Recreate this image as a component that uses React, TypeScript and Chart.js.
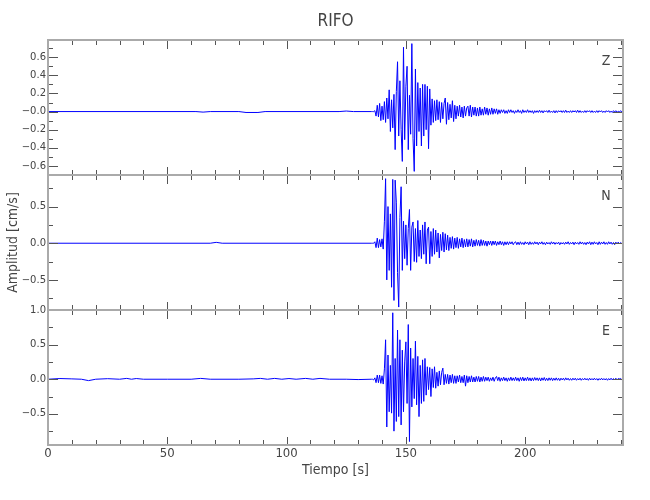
import { useEffect, useRef } from "react";
import { Chart, registerables } from "chart.js";

Chart.register(...registerables);

// ---------------- data ----------------
const TITLE = "RIFO";
const X_TITLE = "Tiempo [s]";
const Y_TITLE = "Amplitud [cm/s]";
const channelNames = ["Z", "N", "E"];

const xMax = 241;
const xTickValues = [0, 50, 100, 150, 200];
const xTickLabels = ["0", "50", "100", "150", "200"];
const xMinorTickValues = [10, 20, 30, 40, 60, 70, 80, 90, 110, 120, 130, 140, 160, 170, 180, 190, 210, 220, 230, 240];

const zRange = [-0.70, 0.79];
const nRange = [-0.91, 0.93];
const eRange = [-0.95, 1.0];

const zTickValues = [-0.6, -0.4, -0.2, 0, 0.2, 0.4, 0.6];
const zTickLabels = ["−0.6", "−0.4", "−0.2", "−0.0", "0.2", "0.4", "0.6"];
const zMinorTicks = [-0.5, -0.3, -0.1, 0.1, 0.3, 0.5, 0.7];

const nTickValues = [-0.5, 0, 0.5];
const nTickLabels = ["−0.5", "0.0", "0.5"];
const nMinorTicks = [-0.75, -0.25, 0.25, 0.75];

const eTickValues = [-0.5, 0, 0.5, 1.0];
const eTickLabels = ["−0.5", "0.0", "0.5", "1.0"];
const eMinorTicks = [-0.75, -0.25, 0.25, 0.75];

// quiet part before the arrival: (time, amplitude) pairs
const zQuietT = [0, 62, 65, 68, 80, 83, 88, 91, 122, 125, 128, 135.5];
const zQuietV = [0, 0, -0.006, 0, 0, -0.01, -0.01, 0, 0, 0.006, 0, 0];
const nQuietT = [0, 68, 70.5, 73, 135.5];
const nQuietV = [0, 0, 0.012, 0, 0];
const eQuietT = [0, 5, 10, 14, 17, 20, 25, 30, 33, 35, 37, 40, 50, 60, 64, 68, 80, 86, 89, 92, 95, 98, 101, 104, 108, 111, 114, 118, 125, 130, 135.5];
const eQuietV = [0, 0.01, 0.005, 0, -0.02, 0, 0.008, 0, 0.012, 0, 0.01, 0, 0, 0, 0.012, 0, 0, 0.005, 0.012, 0, 0.012, 0, 0.01, 0, 0.012, 0, 0.012, 0, 0, -0.005, 0];

// active part: samples every 0.5 s starting at 136 s
const activeStart = 136;
const sampleStep = 0.5;

const zActive = [
  0, 0, 0.01, -0.05, 0.07, -0.06, 0.09, -0.10, 0.06, -0.09, 0.11, -0.12, 0.15, -0.08, 0.24, -0.22, 0.13, -0.18, 0.19, -0.42,
  0.22, 0.55, -0.27, 0.34, -0.20, -0.55, 0.71, -0.31, 0.28, 0.50, -0.42, 0.18, -0.25, 0.75, -0.30, -0.66, 0.47, -0.38, 0.32, -0.22,
  0.26, -0.38, 0.30, -0.27, 0.30, -0.20, 0.28, -0.41, 0.25, -0.15, 0.14, -0.12, 0.12, -0.10, 0.13, -0.09, 0.11, -0.12, 0.10, -0.08,
  0.09, 0.15, -0.14, 0.10, -0.09, 0.08, -0.07, 0.12, -0.11, 0.07, -0.08, 0.06, -0.05, 0.07, -0.06, 0.05, -0.07, 0.06, -0.05, 0.04,
  0.06, -0.05, 0.07, -0.06, 0.05, -0.04, 0.05, -0.05, 0.04, -0.05, 0.05, -0.04, 0.03, -0.04, 0.05, -0.03, 0.04, -0.04, 0.03, -0.03,
  0.04, -0.03, 0.03, -0.02, 0.03, -0.03, 0.02, -0.02, 0.02, -0.01, 0.02, -0.02, 0.01, -0.02, 0.02, -0.01, 0.02, -0.01, 0.01, -0.02,
  0.01, -0.01, 0.02, -0.01, 0.01, -0.02, 0.02, -0.01, 0.01, -0.01, 0.02, -0.01, 0.01, -0.01, 0.01, -0.02, 0.01, -0.01, 0.01, -0.01,
  0.015, -0.01, 0.01, -0.015, 0.01, -0.005, 0.01, -0.01, 0.015, -0.01, 0.005, -0.01, 0.01, -0.015, 0.01, -0.01, 0.01, -0.005, 0.01, -0.01,
  0.01, -0.01, 0.015, -0.01, 0.005, -0.01, 0.01, -0.01, 0.01, -0.005, 0.01, -0.01, 0.015, -0.01, 0.01, -0.01, 0.005, -0.01, 0.01, -0.01,
  0.01, -0.005, 0.01, -0.01, 0.01, -0.01, 0.005, -0.01, 0.01, -0.01, 0.01, -0.005, 0.01, -0.01, 0.005, -0.01, 0.01, -0.005, 0.01, -0.01,
  0.005, -0.01, 0.01, -0.005, 0.01, -0.01, 0.005, -0.005, 0.01, -0.005, 0,
];

const nActive = [
  0, 0, 0.02, -0.06, 0.07, -0.06, 0.05, -0.05, 0.06, -0.08, 0.30, 0.88, -0.50, 0.50, -0.37, 0.40, -0.60, 0.87, -0.78, 0.86,
  0.56, -0.40, -0.87, 0.35, 0.77, -0.37, 0.30, -0.21, 0.25, -0.30, 0.20, 0.46, -0.37, 0.22, 0.29, -0.25, 0.20, -0.26, 0.31, -0.18,
  0.18, -0.21, 0.25, -0.15, 0.29, -0.28, 0.18, 0.22, -0.28, 0.16, -0.18, 0.20, -0.15, 0.18, -0.12, 0.14, -0.20, 0.12, -0.10, 0.15,
  -0.12, 0.13, -0.09, 0.11, -0.10, 0.08, -0.07, 0.09, -0.08, 0.07, -0.06, 0.08, -0.07, 0.06, -0.05, 0.07, -0.06, 0.05, -0.05, 0.06,
  -0.05, 0.05, -0.04, 0.06, -0.05, 0.04, -0.04, 0.05, -0.03, 0.04, -0.04, 0.05, -0.03, 0.04, -0.03, 0.03, -0.04, 0.03, -0.02, 0.03,
  -0.03, 0.03, -0.02, 0.03, -0.03, 0.02, -0.02, 0.03, -0.02, 0.02, -0.03, 0.02, -0.02, 0.02, -0.02, 0.02, -0.01, 0.02, -0.02, 0.01,
  0.02, -0.02, 0.015, -0.02, 0.02, -0.015, 0.01, -0.02, 0.02, -0.01, 0.015, -0.02, 0.02, -0.015, 0.01, -0.015, 0.02, -0.01, 0.015, -0.02,
  0.015, -0.01, 0.02, -0.015, 0.01, -0.02, 0.015, -0.01, 0.01, -0.015, 0.02, -0.01, 0.015, -0.015, 0.01, -0.01, 0.015, -0.02, 0.01, -0.01,
  0.01, -0.015, 0.015, -0.01, 0.02, -0.015, 0.01, -0.01, 0.015, -0.02, 0.015, -0.01, 0.01, -0.015, 0.02, -0.01, 0.015, -0.015, 0.01, -0.02,
  0.015, -0.01, 0.02, -0.02, 0.015, -0.015, 0.02, -0.01, 0.01, -0.02, 0.02, -0.015, 0.015, -0.01, 0.02, -0.015, 0.01, -0.015, 0.02, -0.01,
  0.015, -0.015, 0.01, -0.02, 0.015, -0.01, 0.015, -0.01, 0.01, -0.005, 0,
];

const eActive = [
  0, -0.01, 0.02, -0.05, 0.06, -0.05, 0.06, -0.06, 0.05, -0.07, 0.15, 0.57, -0.69, 0.35, -0.47, 0.20, -0.49, 0.96, -0.75, 0.30,
  -0.61, 0.71, -0.54, 0.57, -0.66, 0.42, -0.47, 0.25, 0.54, -0.35, 0.79, -0.90, 0.45, -0.40, 0.30, -0.28, 0.55, -0.37, 0.33, -0.54,
  0.20, -0.35, 0.28, -0.32, 0.30, -0.23, 0.18, -0.15, 0.17, -0.25, 0.15, -0.12, 0.18, -0.13, 0.10, -0.10, 0.12, -0.08, 0.10, 0.16,
  -0.08, 0.07, -0.06, 0.07, -0.07, 0.06, -0.05, 0.07, -0.06, 0.05, -0.06, 0.05, -0.04, 0.06, -0.05, 0.04, -0.05, 0.06, -0.10, 0.05,
  -0.05, 0.04, -0.04, 0.05, -0.04, 0.03, -0.04, 0.04, -0.03, 0.04, -0.04, 0.03, -0.03, 0.04, -0.03, 0.03, -0.02, 0.03, -0.03, 0.02,
  -0.02, 0.03, -0.03, 0.02, 0.04, -0.02, 0.03, -0.03, 0.02, -0.02, 0.03, -0.02, 0.02, -0.03, 0.02, -0.02, 0.03, -0.02, 0.02, -0.02,
  0.03, -0.02, 0.02, -0.03, 0.025, -0.02, 0.03, -0.025, 0.02, -0.02, 0.03, -0.02, 0.02, -0.025, 0.02, -0.02, 0.025, -0.015, 0.02, -0.02,
  0.02, -0.025, 0.02, -0.015, 0.025, -0.02, 0.015, -0.02, 0.02, -0.015, 0.02, -0.02, 0.015, -0.015, 0.02, -0.015, 0.015, -0.02, 0.015, -0.01,
  0.015, -0.015, 0.02, -0.01, 0.015, -0.015, 0.01, -0.015, 0.015, -0.01, 0.015, -0.015, 0.01, -0.01, 0.015, -0.015, 0.01, -0.01, 0.015, -0.01,
  0.01, -0.015, 0.015, -0.01, 0.01, -0.01, 0.015, -0.01, 0.01, -0.015, 0.01, -0.01, 0.015, -0.01, 0.01, -0.01, 0.01, -0.015, 0.01, -0.01,
  0.015, -0.01, 0.01, -0.01, 0.015, -0.01, 0.01, 0.005, 0.01, -0.005, 0,
];

// ---------------- styling ----------------
const NARROW = "'Liberation Sans Narrow', 'DejaVu Sans Condensed', 'Liberation Sans', sans-serif";
const TEXT = "#444444";
const FRAME = "#aaaaaa";
const TICK = "#555555";
const TRACE = "rgb(0,0,255)";

function buildPoints(qt: number[], qv: number[], active: number[]) {
  const pts: { x: number; y: number }[] = [];
  for (let i = 0; i < qt.length; i++) pts.push({ x: qt[i], y: qv[i] });
  for (let i = 0; i < active.length; i++) pts.push({ x: activeStart + i * sampleStep, y: active[i] });
  return pts;
}

const panelDefs = [
  { id: "yZ", name: channelNames[0], range: zRange, ticks: zTickValues, labels: zTickLabels, minor: zMinorTicks, weight: 3 },
  { id: "yN", name: channelNames[1], range: nRange, ticks: nTickValues, labels: nTickLabels, minor: nMinorTicks, weight: 2 },
  { id: "yE", name: channelNames[2], range: eRange, ticks: eTickValues, labels: eTickLabels, minor: eMinorTicks, weight: 1 },
];

const framePlugin = {
  id: "seisFrames",
  afterDatasetsDraw(chart: any) {
    const { ctx, chartArea } = chart;
    const xs = chart.scales.x;
    const left = chartArea.left;
    const right = chartArea.right;
    ctx.save();
    for (const p of panelDefs) {
      const s = chart.scales[p.id];
      const top = s.top;
      const bottom = s.bottom;
      ctx.strokeStyle = TICK;
      ctx.lineWidth = 1;
      ctx.beginPath();
      for (const v of xTickValues) {
        const px = Math.round(xs.getPixelForValue(v)) + 0.5;
        ctx.moveTo(px, top); ctx.lineTo(px, top + 9);
        ctx.moveTo(px, bottom); ctx.lineTo(px, bottom - 8);
      }
      for (const v of xMinorTickValues) {
        const px = Math.round(xs.getPixelForValue(v)) + 0.5;
        ctx.moveTo(px, top); ctx.lineTo(px, top + 5);
        ctx.moveTo(px, bottom); ctx.lineTo(px, bottom - 5);
      }
      for (const v of p.ticks) {
        const py = Math.round(s.getPixelForValue(v)) + 0.5;
        ctx.moveTo(left, py); ctx.lineTo(left + 10, py);
        ctx.moveTo(right, py); ctx.lineTo(right - 10, py);
      }
      for (const v of p.minor) {
        const py = Math.round(s.getPixelForValue(v)) + 0.5;
        ctx.moveTo(left, py); ctx.lineTo(left + 5, py);
        ctx.moveTo(right, py); ctx.lineTo(right - 5, py);
      }
      ctx.stroke();
      ctx.strokeStyle = FRAME;
      ctx.lineWidth = 2;
      ctx.strokeRect(left, top, right - left, bottom - top);
      ctx.fillStyle = TEXT;
      ctx.font = `14px ${NARROW}`;
      ctx.textAlign = "center";
      ctx.textBaseline = "middle";
      ctx.fillText(p.name, right - 17, top + 21);
    }
    ctx.fillStyle = TEXT;
    ctx.font = `17px ${NARROW}`;
    ctx.textAlign = "center";
    ctx.textBaseline = "middle";
    ctx.fillText(TITLE, (left + right) / 2, 22);
    ctx.restore();
  },
};

export default function App() {
  const ref = useRef<HTMLCanvasElement | null>(null);

  useEffect(() => {
    if (!ref.current) return;
    const datasets = [
      { label: "Z", data: buildPoints(zQuietT, zQuietV, zActive), yAxisID: "yZ" },
      { label: "N", data: buildPoints(nQuietT, nQuietV, nActive), yAxisID: "yN" },
      { label: "E", data: buildPoints(eQuietT, eQuietV, eActive), yAxisID: "yE" },
    ].map((d) => ({
      ...d,
      xAxisID: "x",
      borderColor: TRACE,
      borderWidth: 1,
      pointRadius: 0,
      fill: false,
      tension: 0,
    }));

    const scales: any = {
      x: {
        type: "linear",
        position: "bottom",
        min: 0,
        max: xMax,
        grid: { display: false, drawTicks: false },
        border: { display: false },
        afterBuildTicks: (s: any) => {
          s.ticks = xTickValues.map((v) => ({ value: v }));
        },
        afterFit: (s: any) => {
          s.height = 55;
        },
        ticks: {
          autoSkip: false,
          maxRotation: 0,
          padding: 1,
          color: TEXT,
          font: { family: NARROW, size: 13 },
          callback: (_v: any, i: number) => xTickLabels[i],
        },
        title: {
          display: true,
          text: X_TITLE,
          color: TEXT,
          font: { family: NARROW, size: 14 },
          padding: { top: 0, bottom: 21 },
        },
      },
    };

    for (const p of panelDefs) {
      scales[p.id] = {
        type: "linear",
        position: "left",
        stack: "panels",
        stackWeight: 1,
        weight: p.weight,
        min: p.range[0],
        max: p.range[1],
        grid: { display: false, drawTicks: false },
        border: { display: false },
        afterBuildTicks: (s: any) => {
          s.ticks = p.ticks.map((v) => ({ value: v }));
        },
        afterFit: (s: any) => {
          s.width = 48;
        },
        ticks: {
          autoSkip: false,
          padding: 2,
          color: TEXT,
          font: { family: "'DejaVu Sans', sans-serif", size: 10 },
          callback: (_v: any, i: number) => p.labels[i],
        },
        title: {
          display: p.id === "yN",
          text: Y_TITLE,
          color: TEXT,
          font: { family: NARROW, size: 14 },
          padding: { top: 5, bottom: 0 },
        },
      };
    }

    const chart = new Chart(ref.current, {
      type: "line",
      data: { datasets },
      options: {
        animation: false,
        responsive: false,
        maintainAspectRatio: false,
        devicePixelRatio: 1,
        events: [],
        layout: { padding: { left: 0, right: 27, top: 40, bottom: 0 } },
        plugins: { legend: { display: false }, tooltip: { enabled: false }, title: { display: false } },
        scales,
      } as any,
      plugins: [framePlugin],
    });
    return () => chart.destroy();
  }, []);

  return (
    <div style={{ position: "fixed", left: 0, top: 0, width: 650, height: 500, background: "#fff" }}>
      <canvas ref={ref} width={650} height={500} style={{ width: 650, height: 500 }} />
    </div>
  );
}
